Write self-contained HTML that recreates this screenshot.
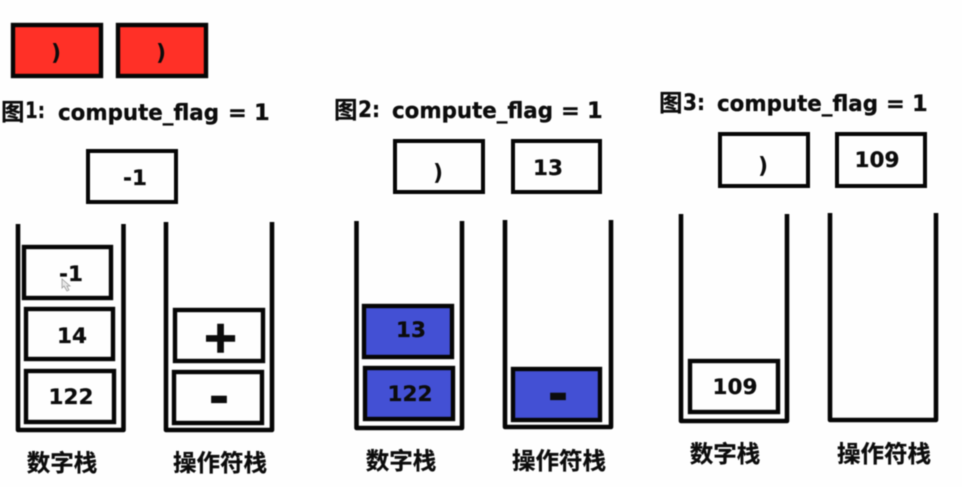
<!DOCTYPE html>
<html><head><meta charset="utf-8"><style>
html,body{margin:0;padding:0;background:#fefefe;width:962px;height:487px;overflow:hidden}
svg{display:block;filter:blur(.4px)}
rect{stroke:#060606;stroke-width:4.4;fill:#fefefe}
rect.t{stroke-width:4}
rect.r{fill:#ff3027}
rect.b{fill:#4350d4}
path.s{fill:none;stroke:#060606;stroke-width:4.6;stroke-linejoin:round}
text{font-family:"DejaVu Sans","Liberation Sans",sans-serif;font-weight:700;fill:#0c0c0c;stroke:#0c0c0c;stroke-width:.3;text-anchor:middle;font-size:21.500px}
text.h{text-anchor:start;font-size:22.500px}
text.c{font-family:"Liberation Sans","Noto Sans CJK SC",sans-serif;font-size:23.500px;stroke-width:.25}
text.p{font-size:22px;stroke-width:0}
</style></head><body>
<svg width="962" height="487" viewBox="0 0 962 487" xmlns="http://www.w3.org/2000/svg">
<rect class="r" x="13" y="25" width="88" height="51"/>
<rect class="r" x="118" y="25" width="88" height="51"/>
<text class="p" x="56" y="60">)</text>
<text class="p" x="161" y="60">)</text>

<text class="c" x="1" y="120" style="text-anchor:start">图</text>
<text class="h" x="25" y="118" textLength="20" lengthAdjust="spacingAndGlyphs">1:</text>
<text class="h" x="58" y="120" textLength="161" lengthAdjust="spacingAndGlyphs">compute_flag</text>
<text class="h" x="228" y="120">=</text>
<text class="h" x="254" y="120">1</text>

<text class="c" x="334" y="118" style="text-anchor:start">图</text>
<text class="h" x="358" y="117" textLength="22" lengthAdjust="spacingAndGlyphs">2:</text>
<text class="h" x="392" y="118" textLength="161" lengthAdjust="spacingAndGlyphs">compute_flag</text>
<text class="h" x="561" y="118">=</text>
<text class="h" x="587" y="118">1</text>

<text class="c" x="659" y="111" style="text-anchor:start">图</text>
<text class="h" x="683" y="110" textLength="22" lengthAdjust="spacingAndGlyphs">3:</text>
<text class="h" x="717" y="111" textLength="161" lengthAdjust="spacingAndGlyphs">compute_flag</text>
<text class="h" x="886" y="111">=</text>
<text class="h" x="912" y="111">1</text>

<!-- figure 1 -->
<rect class="t" x="88" y="151" width="88" height="51"/>
<text x="135" y="185">-1</text>
<path class="s" d="M18 224V430H123.500V224"/>
<path class="s" d="M166 222V430H272V222"/>
<rect x="24" y="247" width="87" height="51"/>
<rect x="26" y="309" width="87" height="50"/>
<rect x="26" y="371" width="88" height="51"/>
<rect x="175" y="310" width="88" height="51"/>
<rect x="174" y="372" width="88" height="51"/>
<text x="71" y="281">-1</text>
<text x="72" y="343">14</text>
<text x="71" y="404">122</text>
<text x="220.500" y="352" style="font-size:44px;stroke-width:1.6">+</text>
<text x="219" y="414" style="font-size:50px">-</text>
<path d="M62 279l0 9 2-2 3 5 2-1-2-4h3z" style="fill:#e8e8e8;stroke:#999;stroke-width:.8"/>
<text class="c" x="62" y="471">数字栈</text>
<text class="c" x="220" y="471">操作符栈</text>

<!-- figure 2 -->
<rect class="t" x="395" y="141" width="88" height="51"/>
<rect class="t" x="513" y="141" width="87" height="51"/>
<text class="p" x="438" y="180">)</text>
<text x="548" y="175">13</text>
<path class="s" d="M356.500 221V428H462V221"/>
<path class="s" d="M505 220V427H611V220"/>
<rect class="b" x="364" y="306" width="88" height="51"/>
<rect class="b" x="365" y="368" width="88" height="51"/>
<rect class="b" x="513" y="369" width="87" height="51"/>
<text x="411" y="337">13</text>
<text x="410" y="401">122</text>
<text x="558" y="411" style="font-size:50px">-</text>
<text class="c" x="401" y="469">数字栈</text>
<text class="c" x="559" y="469">操作符栈</text>

<!-- figure 3 -->
<rect class="t" x="720" y="134" width="88" height="52"/>
<rect class="t" x="837" y="134" width="88" height="52"/>
<text class="p" x="763" y="173">)</text>
<text x="877" y="167">109</text>
<path class="s" d="M681 214V421H787V214"/>
<path class="s" d="M830 213V420H936V213"/>
<rect x="690" y="361" width="88" height="51"/>
<text x="735" y="394">109</text>
<text class="c" x="725" y="462">数字栈</text>
<text class="c" x="884" y="462">操作符栈</text>
</svg>
</body></html>
